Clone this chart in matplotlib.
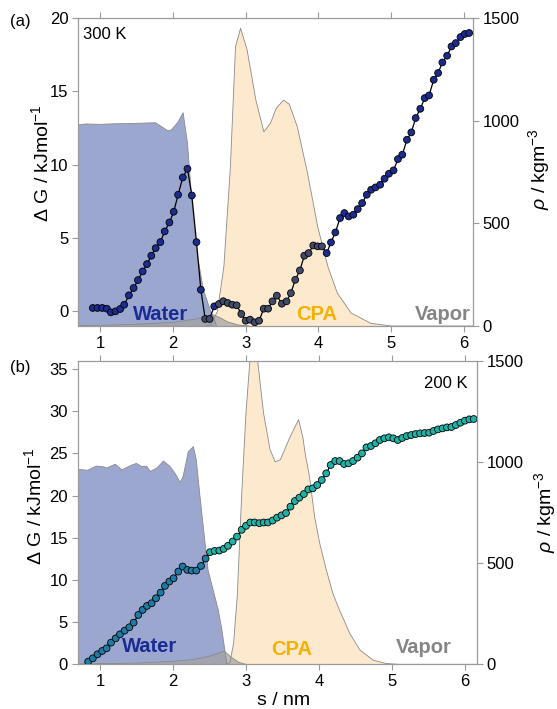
import numpy as np
import matplotlib
matplotlib.use("Agg")
import matplotlib.pyplot as plt

plt.rcParams.update(
    {
        "font.family": ["Liberation Sans", "DejaVu Sans"],
        "mathtext.fontset": "custom",
        "mathtext.rm": "Liberation Sans",
        "mathtext.it": "Liberation Sans:italic",
        "font.size": 12,
        "axes.edgecolor": "#9a9a9a",
        "xtick.color": "#9a9a9a",
        "ytick.color": "#9a9a9a",
        "xtick.labelcolor": "black",
        "ytick.labelcolor": "black",
    }
)

# ---- (a) 300 K : free energy profile along s ----
s_300 = [0.899, 0.963, 1.028, 1.092, 1.147, 1.211, 1.276, 1.331, 1.395, 1.460,
         1.520, 1.584, 1.644, 1.703, 1.763, 1.828, 1.887, 1.952, 2.011, 2.071,
         2.136, 2.200, 2.260, 2.324, 2.384, 2.444, 2.503, 2.568, 2.632, 2.692,
         2.752, 2.816, 2.876, 2.940, 3.000, 3.060, 3.124, 3.184, 3.248, 3.308,
         3.368, 3.428, 3.497, 3.561, 3.621, 3.681, 3.745, 3.805, 3.864, 3.929,
         3.989, 4.048, 4.113, 4.172, 4.232, 4.297, 4.356, 4.416, 4.480, 4.540,
         4.600, 4.664, 4.724, 4.784, 4.848, 4.908, 4.968, 5.032, 5.092, 5.152,
         5.216, 5.276, 5.336, 5.400, 5.460, 5.520, 5.584, 5.644, 5.703, 5.768,
         5.828, 5.887, 5.952, 6.011, 6.071]
dG_300 = [0.23, 0.23, 0.23, 0.18, -0.07, 0.00, 0.16, 0.45, 1.09, 1.59,
          2.13, 2.72, 3.22, 3.79, 4.31, 4.72, 5.45, 6.06, 6.79, 7.95,
          9.13, 9.72, 7.90, 4.72, 1.47, -0.52, -0.52, 0.34, 0.50, 0.69,
          0.57, 0.45, 0.41, -0.18, -0.64, -0.57, -0.75, -0.64, 0.18, 0.18,
          0.68, 1.07, 0.52, 0.68, 1.24, 2.15, 2.79, 3.79, 3.97, 4.49,
          4.43, 4.43, 3.97, 4.70, 5.38, 6.36, 6.70, 6.47, 6.59, 6.97,
          7.38, 7.95, 8.29, 8.45, 8.63, 9.04, 9.38, 9.61, 10.38, 10.68,
          11.70, 12.20, 13.18, 13.81, 14.54, 14.72, 15.79, 16.25, 16.97, 17.43,
          18.06, 18.29, 18.70, 18.91, 18.98]
# points lying inside the gray / CPA densities
dim_300 = [25, 26] + list(range(28, 52))

# density profiles at 300 K (kg m^-3)
s_water_300 = [0.70, 0.80, 1.00, 1.20, 1.40, 1.60, 1.76, 1.83, 1.93, 1.98,
               2.07, 2.14, 2.20, 2.26, 2.33, 2.42, 2.52, 2.56, 2.60]
rho_water_300 = [979, 984, 982, 985, 986, 988, 990, 974, 951, 955,
                 993, 1039, 891, 614, 355, 175, 70, 40, 0]
s_cpa_300 = [2.45, 2.52, 2.61, 2.70, 2.79, 2.86, 2.93, 3.02, 3.14, 3.25,
             3.34, 3.42, 3.52, 3.60, 3.71, 3.85, 3.99, 4.13, 4.26, 4.45,
             4.72, 5.00, 6.20]
rho_cpa_300 = [0, 5, 70, 288, 775, 1360, 1450, 1344, 1100, 946,
               987, 1060, 1100, 1080, 970, 744, 483, 289, 160, 63,
               13, 0, 0]
s_gray_300 = [0.70, 1.20, 1.60, 2.00, 2.30, 2.45, 2.55, 2.65, 2.75, 2.90, 3.05]
rho_gray_300 = [2, 5, 10, 18, 33, 48, 55, 40, 20, 5, 0]

# ---- (b) 200 K ----
s_200 = [0.838, 0.902, 0.966, 1.030, 1.091, 1.151, 1.215, 1.274, 1.338, 1.402,
         1.461, 1.525, 1.584, 1.644, 1.708, 1.767, 1.831, 1.890, 1.950, 2.009,
         2.073, 2.132, 2.196, 2.256, 2.320, 2.384, 2.447, 2.507, 2.571, 2.635,
         2.694, 2.753, 2.817, 2.877, 2.941, 3.000, 3.059, 3.119, 3.183, 3.242,
         3.301, 3.365, 3.425, 3.486, 3.548, 3.609, 3.670, 3.731, 3.793, 3.854,
         3.915, 3.976, 4.038, 4.099, 4.160, 4.222, 4.283, 4.344, 4.405, 4.467,
         4.528, 4.589, 4.650, 4.712, 4.773, 4.834, 4.895, 4.957, 5.018, 5.079,
         5.140, 5.202, 5.263, 5.324, 5.385, 5.447, 5.508, 5.569, 5.630, 5.692,
         5.753, 5.814, 5.875, 5.937, 5.998, 6.059, 6.119]
dG_200 = [0.32, 0.71, 1.19, 1.58, 1.90, 2.57, 3.08, 3.56, 3.99, 4.39,
          4.94, 5.85, 6.45, 6.92, 7.24, 7.83, 8.50, 9.29, 9.81, 10.20,
          10.99, 11.59, 11.19, 11.11, 11.11, 11.66, 12.53, 13.29, 13.44, 13.48,
          13.68, 14.04, 14.55, 15.14, 15.94, 16.41, 16.81, 16.81, 16.73, 16.81,
          16.81, 17.04, 17.38, 17.65, 17.93, 18.68, 19.35, 19.75, 20.18, 20.73,
          20.85, 21.25, 21.84, 22.63, 23.62, 24.09, 24.09, 23.74, 23.82, 24.09,
          24.49, 25.00, 25.71, 25.87, 26.19, 26.58, 26.78, 26.90, 26.78, 26.58,
          26.82, 27.05, 27.17, 27.29, 27.37, 27.41, 27.45, 27.65, 27.84, 27.96,
          28.08, 28.12, 28.36, 28.63, 28.87, 29.03, 29.07]
dim_200 = list(range(0, 27))

s_water_200 = [0.69, 0.83, 0.95, 1.05, 1.09, 1.21, 1.30, 1.43, 1.50, 1.57,
               1.64, 1.69, 1.78, 1.87, 1.96, 2.03, 2.10, 2.14, 2.21, 2.28,
               2.32, 2.37, 2.44, 2.48, 2.55, 2.62, 2.67, 2.71, 2.74]
rho_water_200 = [963, 958, 979, 975, 969, 988, 960, 983, 992, 977,
                 977, 952, 969, 1004, 977, 942, 898, 929, 1050, 1075,
                 1008, 829, 598, 467, 367, 269, 171, 71, 0]
s_cpa_200 = [2.72, 2.78, 2.83, 2.88, 2.94, 3.00, 3.06, 3.11, 3.15, 3.24,
             3.33, 3.40, 3.47, 3.60, 3.72, 3.78, 3.81, 3.87, 3.94, 4.01,
             4.10, 4.19, 4.28, 4.42, 4.56, 4.74, 4.92, 5.10, 6.20]
rho_cpa_200 = [0, 8, 104, 333, 829, 1242, 1530, 1580, 1530, 1242,
               1060, 1000, 1010, 1120, 1208, 1120, 1042, 927, 729, 598,
               467, 350, 269, 154, 71, 21, 4, 0, 0]
s_gray_200 = [0.69, 1.50, 2.00, 2.30, 2.50, 2.70, 2.80, 2.90, 3.00]
rho_gray_200 = [2, 6, 15, 25, 40, 65, 35, 10, 0]

WATER_FILL = "#9ba7cf"
CPA_FILL = "#fde9cd"
GRAY_FILL = "#a4a4a4"
EDGE = "#8a8a8a"


def draw_panel(ax, s, dG, dim, col, dim_col, water, cpa, gray):
    axr = ax.twinx()
    ax.set_zorder(axr.get_zorder() + 1)
    ax.patch.set_visible(False)

    for (xs, ys), fc, a in ((cpa, CPA_FILL, 1.0), (water, WATER_FILL, 1.0), (gray, GRAY_FILL, 0.75)):
        axr.fill_between(xs, 0, ys, facecolor=fc, edgecolor="none", alpha=a)
        axr.plot(xs, ys, color=EDGE, lw=0.6)
    axr.set_ylim(0, 1500)
    axr.set_yticks([0, 500, 1000, 1500])
    axr.set_ylabel(r"$\rho$ / kgm$^{-3}$", fontsize=14)

    colors = [dim_col if i in dim else col for i in range(len(s))]
    ax.plot(s, dG, color="black", lw=0.9, zorder=2)
    ax.scatter(s, dG, s=24, c=colors, edgecolors="black", linewidths=0.6, zorder=3)
    ax.set_ylabel("\u0394 G / kJmol$^{-1}$", fontsize=14)

    for a in (ax, axr):
        a.tick_params(length=4, width=0.8, labelsize=12, pad=3)
        for sp in a.spines.values():
            sp.set_color("#9a9a9a")
    ax.tick_params(axis="x", top=True)
    return axr


fig = plt.figure(figsize=(5.57, 7.09), dpi=100)
ax_a = fig.add_axes([0.1406, 0.5402, 0.7081, 0.4344])
ax_b = fig.add_axes([0.1395, 0.0630, 0.7163, 0.4285])

axr_a = draw_panel(ax_a, s_300, dG_300, dim_300, "#1b2b8e", "#414a68",
                   (s_water_300, rho_water_300), (s_cpa_300, rho_cpa_300),
                   (s_gray_300, rho_gray_300))
axr_b = draw_panel(ax_b, s_200, dG_200, dim_200, "#1eb3a6", "#1c7ca6",
                   (s_water_200, rho_water_200), (s_cpa_200, rho_cpa_200),
                   (s_gray_200, rho_gray_200))

ax_a.set_xlim(0.70, 6.12)
ax_a.set_ylim(-1, 20)
ax_a.set_yticks([0, 5, 10, 15, 20])
ax_b.set_xlim(0.695, 6.16)
ax_b.set_ylim(0, 36)
ax_b.set_yticks([0, 5, 10, 15, 20, 25, 30, 35])
for a in (ax_a, ax_b):
    a.set_xticks([1, 2, 3, 4, 5, 6])

ax_b.set_xlabel("s / nm", fontsize=14)
ax_b.xaxis.set_label_coords(0.515, -0.092)

ax_a.yaxis.set_label_coords(-0.067, 0.53)
ax_b.yaxis.set_label_coords(-0.082, 0.52)
axr_a.yaxis.set_label_coords(1.135, 0.51)
axr_b.yaxis.set_label_coords(1.14, 0.50)

# phase labels
lab = dict(fontsize=14.5, fontweight="bold", ha="center", va="center")
axr_a.text(1.83, 55, "Water", color="#1a2c94", **lab)
axr_a.text(3.97, 55, "CPA", color="#f5b100", **lab)
axr_a.text(5.71, 55, "Vapor", color="#858585", **lab)
axr_b.text(1.68, 88, "Water", color="#1a2c94", **lab)
axr_b.text(3.62, 72, "CPA", color="#f5b100", **lab)
axr_b.text(5.44, 82, "Vapor", color="#858585", **lab)

ax_a.text(0.012, 0.945, "300 K", transform=ax_a.transAxes, fontsize=12, ha="left", va="center")
ax_b.text(0.978, 0.925, "200 K", transform=ax_b.transAxes, fontsize=12, ha="right", va="center")
fig.text(0.036, 0.969, "(a)", fontsize=12, ha="center", va="center")
fig.text(0.036, 0.482, "(b)", fontsize=12, ha="center", va="center")

fig.savefig("out.png", dpi=100)
